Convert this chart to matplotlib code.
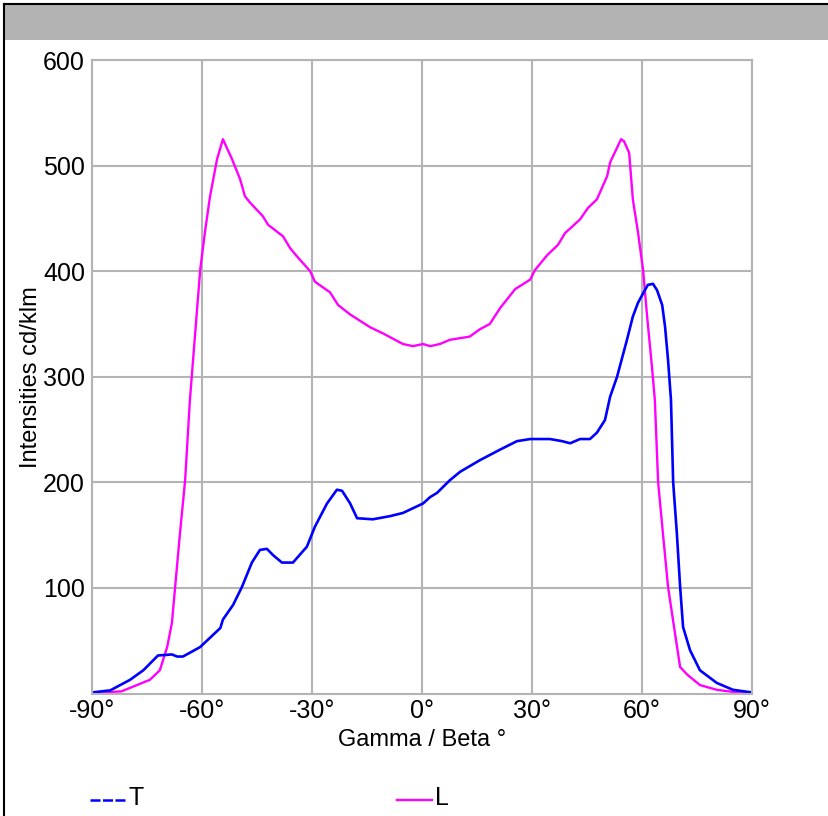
import matplotlib
matplotlib.use('Agg')
import matplotlib.pyplot as plt
from matplotlib.patches import Rectangle
from matplotlib.lines import Line2D

plt.rcParams['font.family'] = ['Liberation Sans', 'DejaVu Sans']

# T curve (blue)
t_angle = [-90, -85, -79.6, -76, -72, -68.2, -66.8, -65.2, -60.5, -55, -54.3, -51.5, -49.1,
           -46.4, -44.2, -42.3, -40.6, -38.2, -35.2, -31.4, -29.2, -25.9, -23.2, -21.8, -19.6,
           -17.7, -13.4, -8.7, -5.2, 0.3, 2.2, 4.1, 7.6, 10.4, 15.8, 21.3, 25.9, 29.5, 34.9,
           38.2, 40.4, 43.1, 45.8, 47.7, 49.9, 51.3, 53.2, 55.9, 57.5, 58.9, 60.3, 61.6, 63,
           64.1, 65.5, 66.3, 67.1, 67.9, 68.5, 69.5, 70.4, 71.2, 73.1, 75.8, 80.4, 84.8, 90]
t_val = [1, 3, 13, 22, 36, 37, 35, 35, 44, 62, 70, 84, 101,
         124, 136, 137, 131, 124, 124, 139, 158, 180, 193, 192, 180,
         166, 165, 168, 171, 180, 186, 190, 202, 210, 221, 231, 239, 241, 241,
         239, 237, 241, 241, 247, 259, 281, 300, 335, 357, 370, 379, 387, 388,
         382, 368, 347, 316, 278, 200, 152, 101, 63, 41, 22, 10, 3.5, 1]

# L curve (magenta)
l_angle = [-90, -82, -74.2, -71.5, -69.5, -68.2, -67.4, -66, -64.6, -63.3, -60.5, -59.2,
           -57.8, -55.9, -54.3, -51.8, -49.6, -48.3, -46.9, -43.4, -42, -37.9, -36, -34.1,
           -30.5, -29.2, -25.1, -22.9, -19.6, -14.2, -10.6, -5.2, -2.5, 0.3, 2.2, 4.9, 7.6,
           13, 15.8, 18.5, 21.3, 25.4, 29.5, 30.8, 34.1, 37.1, 39, 43.1, 45.3, 47.7, 50.5,
           51.3, 54.3, 55.1, 56.5, 57.5, 58.9, 60.3, 61.4, 62.7, 63.5, 64.4, 65.7, 67.1, 69,
           70.4, 72.3, 75.8, 80.4, 84.8, 90]
l_val = [0.5, 2, 13, 22, 44, 67, 98, 152, 202, 278, 401, 437,
         471, 506, 525, 506, 487, 471, 465, 452, 444, 433, 422, 414,
         400, 390, 380, 368, 359, 347, 341, 331, 329, 331, 329, 331, 335,
         338, 345, 350, 365, 383, 392, 401, 415, 425, 436, 449, 460, 468, 490,
         503, 525, 523, 512, 468, 437, 401, 357, 310, 278, 200, 152, 101, 57,
         25, 18, 8, 3.5, 1.5, 0.5]

x_ticks = [-90, -60, -30, 0, 30, 60, 90]
x_labels = ['-90°', '-60°', '-30°', '0°', '30°', '60°', '90°']
y_ticks = [100, 200, 300, 400, 500, 600]

fig = plt.figure(figsize=(8.29, 8.16), dpi=100)

# header band and frame
fig.patches.append(Rectangle((4/829, 1 - 40/816), 1, 36/816, transform=fig.transFigure,
                             facecolor='#b3b3b3', edgecolor='none'))
fig.lines.append(Line2D([4/829, 4/829], [0, 1 - 4/816], transform=fig.transFigure, color='black', lw=1.5))
fig.lines.append(Line2D([4/829, 1], [1 - 4/816, 1 - 4/816], transform=fig.transFigure, color='black', lw=1.5))

ax = fig.add_axes([92/829, 122.5/816, 660/829, 633.5/816])
ax.plot(l_angle, l_val, color='#ff00ff', lw=1.7, label='L')
ax.plot(t_angle, t_val, color='#0000ff', lw=1.9, label='T')

ax.set_xlim(-90, 90)
ax.set_ylim(0, 600)
ax.set_xticks(x_ticks)
ax.set_xticklabels(x_labels)
ax.set_yticks(y_ticks)
ax.tick_params(length=0, labelsize=18)
ax.tick_params(axis='x', pad=4)
ax.tick_params(axis='y', pad=5)
ax.grid(True, color='#b4b4b4', lw=1.5)
for s in ax.spines.values():
    s.set_color('#b4b4b4')
    s.set_linewidth(1.5)
ax.set_axisbelow(True)

ax.set_xlabel('Gamma / Beta °', fontsize=17, labelpad=4)
ax.set_ylabel('Intensities cd/klm', fontsize=17)
ax.yaxis.set_label_coords(-50/660, 0.5)

# legend at bottom
fig.lines.append(Line2D([90/829, 126/829], [1 - 800/816, 1 - 800/816], transform=fig.transFigure,
                        color='#0000ff', lw=1.8, ls=(0, (4, 1))))
fig.text(129/829, 1 - 798/816, 'T', fontsize=18, va='center')
fig.lines.append(Line2D([397/829, 432/829], [1 - 800/816, 1 - 800/816], transform=fig.transFigure,
                        color='#ff00ff', lw=1.7))
fig.text(435/829, 1 - 798/816, 'L', fontsize=18, va='center')

fig.savefig('out.png', dpi=100)
